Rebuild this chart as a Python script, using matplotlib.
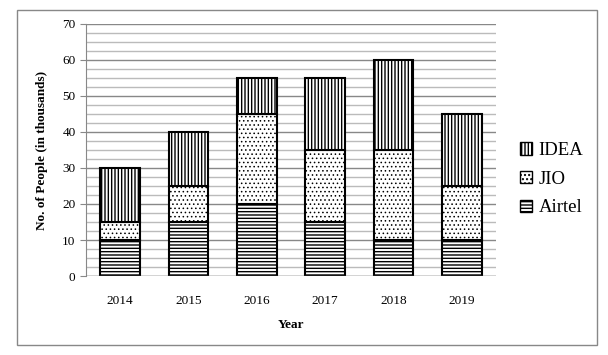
import matplotlib.pyplot as plt
import matplotlib.patches as mpatches
import numpy as np

years = ['2014', '2015', '2016', '2017', '2018', '2019']
airtel = [10, 15, 20, 15, 10, 10]
jio = [5, 10, 25, 20, 25, 15]
idea = [15, 15, 10, 20, 25, 20]

plt.rcParams['font.family'] = 'Liberation Serif'
plt.rcParams['hatch.linewidth'] = 1.0

fig = plt.figure(figsize=(6.08, 3.55), dpi=100)
ax = fig.add_axes([0.1414, 0.2225, 0.6744, 0.71])

# outer border
fig.patches.append(mpatches.Rectangle((0.028, 0.028), 0.954, 0.944, transform=fig.transFigure,
                                      fill=False, edgecolor='#888888', linewidth=1.0))

x = np.arange(len(years))
w = 0.58
bottom2 = np.array(airtel) + np.array(jio)
ax.bar(x, airtel, w, color='white', edgecolor='black', hatch='-----', linewidth=1.5, label='Airtel', zorder=3)
jb = ax.bar(x, jio, w, bottom=airtel, color='white', edgecolor='black', hatch='....', linewidth=1.5, label='JIO', zorder=3)
for p in jb:
    p.set_hatch_linewidth(0.6)
ax.bar(x, idea, w, bottom=bottom2, color='white', edgecolor='black', hatch='|||||', linewidth=1.5, label='IDEA', zorder=3)

ax.set_xlim(-0.5, 5.5)
ax.set_ylim(0, 70)
ax.set_yticks(range(0, 71, 10))
ax.set_yticks(np.arange(0, 70, 2.5), minor=True)
ax.grid(axis='y', which='major', color='#888888', linewidth=1.0, zorder=0)
ax.grid(axis='y', which='minor', color='#bbbbbb', linewidth=1.0, zorder=0)
ax.set_xticks(x)
ax.set_xticklabels(years)
for s in ['top', 'right', 'bottom']:
    ax.spines[s].set_visible(False)
ax.spines['left'].set_color('#888888')
ax.tick_params(axis='y', which='major', length=4, color='#888888', labelsize=9.5)
ax.tick_params(axis='y', which='minor', length=0)
ax.tick_params(axis='x', length=0, labelsize=9.5, pad=14)
ax.axhline(0, color='#888888', linewidth=1.0, zorder=4)

ax.set_ylabel('No. of People (in thousands)', fontweight='bold', fontsize=9.5, labelpad=10)
ax.set_xlabel('Year', fontweight='bold', fontsize=9.5, labelpad=8)

handles, labels = ax.get_legend_handles_labels()
leg = fig.legend(handles[::-1], labels[::-1], loc='center left', bbox_to_anchor=(0.827, 0.495),
                 frameon=False, fontsize=13.5, handlelength=0.65, handleheight=0.65,
                 handletextpad=0.35, labelspacing=0.62)
for h in leg.legend_handles:
    h.set_linewidth(1.0)

fig.savefig('out.png', dpi=100)
